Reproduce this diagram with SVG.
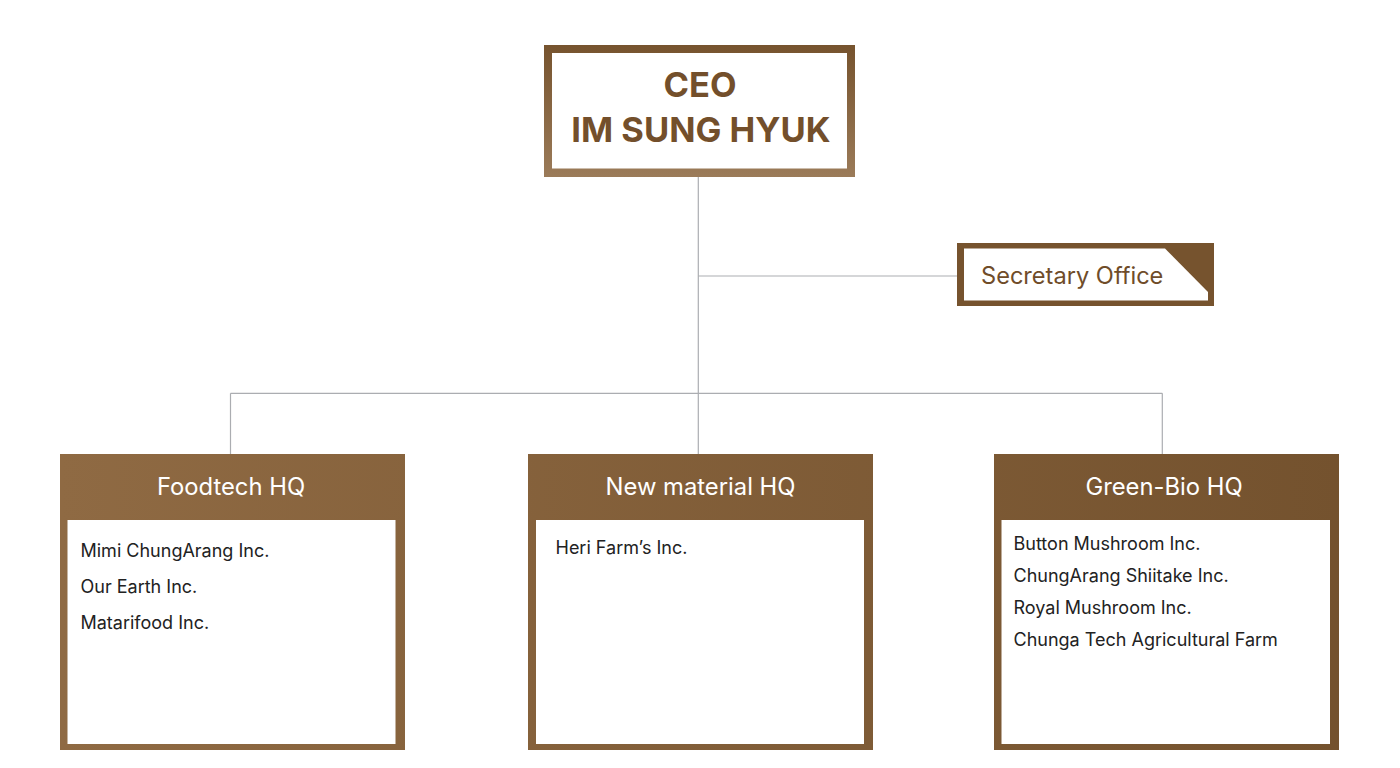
<svg xmlns="http://www.w3.org/2000/svg" width="1400" height="768" viewBox="0 0 1400 768">
  <defs>
    <linearGradient id="ceoGrad" x1="0" y1="0" x2="0" y2="1">
      <stop offset="0" stop-color="#76532e"/>
      <stop offset="1" stop-color="#9b7b59"/>
    </linearGradient>
    <linearGradient id="hqGrad" gradientUnits="userSpaceOnUse" x1="60" y1="0" x2="1340" y2="0">
      <stop offset="0" stop-color="#8f6a43"/>
      <stop offset="1" stop-color="#74522e"/>
    </linearGradient>
  </defs>
  <style>
    .conn { stroke: #abadb1; stroke-width: 1.2; fill: none; }
    .ceo { font-family: Inter, "Liberation Sans", sans-serif; font-weight: 700; font-size: 34.5px; fill: #734f2b; text-anchor: middle; }
    .sec { font-family: Inter, "Liberation Sans", sans-serif; font-size: 23.6px; fill: #6f4c29; }
    .hqt { font-family: Inter, "Liberation Sans", sans-serif; font-size: 23.8px; fill: #ffffff; text-anchor: middle; }
    .item { font-family: Inter, "Liberation Sans", sans-serif; font-size: 18px; fill: #222222; }
  </style>
  <rect width="1400" height="768" fill="#ffffff"/>

  <g id="connectors">
    <line class="conn" x1="698.3" y1="177" x2="698.3" y2="455"/>
    <line class="conn" x1="698.3" y1="276" x2="958" y2="276"/>
    <line class="conn" x1="230.5" y1="393.3" x2="1162.3" y2="393.3"/>
    <line class="conn" x1="230.5" y1="393.3" x2="230.5" y2="455"/>
    <line class="conn" x1="1162.3" y1="393.3" x2="1162.3" y2="455"/>
  </g>

  <g id="ceo">
    <rect x="544" y="45" width="311" height="132" fill="url(#ceoGrad)"/>
    <rect x="552" y="53" width="295" height="115.5" fill="#ffffff"/>
    <text class="ceo" x="700" y="97">CEO</text>
    <text class="ceo" x="701" y="142">IM SUNG HYUK</text>
  </g>

  <g id="secretary">
    <rect x="957" y="243" width="257" height="63" fill="#76532e"/>
    <polygon points="964,248.5 1165,248.5 1208,292 1208,300.5 964,300.5" fill="#ffffff"/>
    <text class="sec" x="981" y="283.5">Secretary Office</text>
  </g>

  <g id="foodtech">
    <rect x="60" y="454" width="345" height="296" fill="url(#hqGrad)"/>
    <rect x="67.5" y="520" width="328" height="224" fill="#ffffff"/>
    <text class="hqt" x="231" y="495">Foodtech HQ</text>
    <text class="item" x="80.5" y="557">Mimi ChungArang Inc.</text>
    <text class="item" x="80.5" y="593">Our Earth Inc.</text>
    <text class="item" x="80.5" y="629">Matarifood Inc.</text>
  </g>

  <g id="newmaterial">
    <rect x="528" y="454" width="345" height="296" fill="url(#hqGrad)"/>
    <rect x="536" y="520" width="328" height="224" fill="#ffffff"/>
    <text class="hqt" x="700.5" y="495">New material HQ</text>
    <text class="item" x="555.5" y="554">Heri Farm’s Inc.</text>
  </g>

  <g id="greenbio">
    <rect x="994" y="454" width="345" height="296" fill="url(#hqGrad)"/>
    <rect x="1001.5" y="520" width="328.5" height="224" fill="#ffffff"/>
    <text class="hqt" x="1164" y="495">Green-Bio HQ</text>
    <text class="item" x="1013.5" y="550">Button Mushroom Inc.</text>
    <text class="item" x="1013.5" y="581.5">ChungArang Shiitake Inc.</text>
    <text class="item" x="1013.5" y="614">Royal Mushroom Inc.</text>
    <text class="item" x="1013.5" y="646">Chunga Tech Agricultural Farm</text>
  </g>
</svg>
